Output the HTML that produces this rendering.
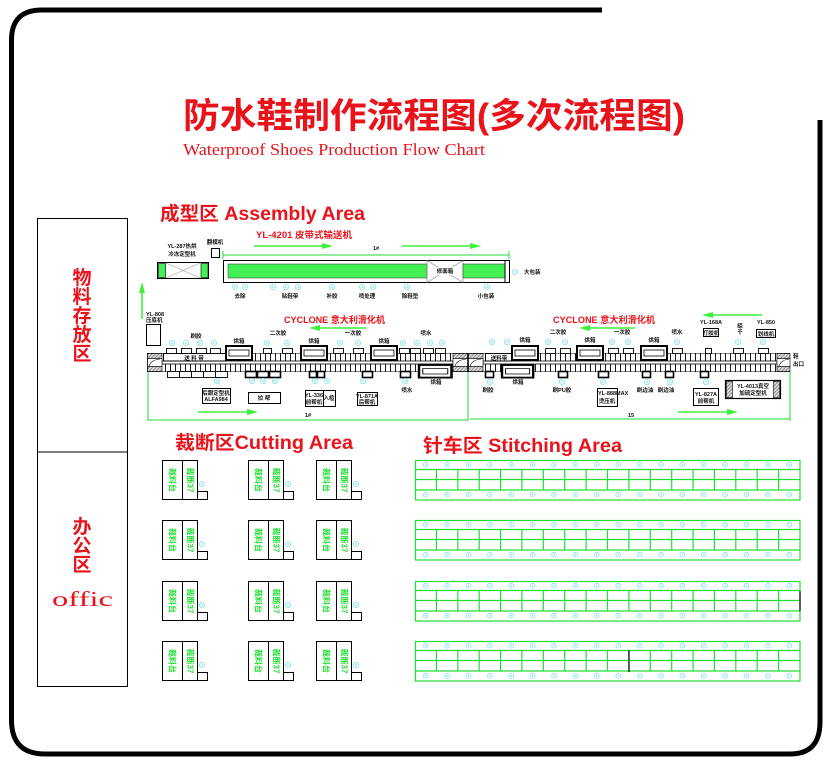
<!DOCTYPE html>
<html><head><meta charset="utf-8">
<style>
html,body{margin:0;padding:0;background:#fff;}
svg{display:block}
.s{font-size:5.5px;font-weight:bold;fill:#111}
.r{fill:#e8131b;font-weight:bold}
.g{fill:#22dd33;font-weight:bold}
</style></head>
<body>
<svg width="832" height="764" viewBox="0 0 832 764" xmlns="http://www.w3.org/2000/svg" xmlns:xlink="http://www.w3.org/1999/xlink" font-family="'Liberation Sans','Noto Sans CJK SC',sans-serif">
<defs>
<g id="ic"><circle r="2.6" fill="none" stroke="#7fe0ee" stroke-width="0.8"/><circle r="0.9" fill="#7fe0ee"/></g>
<pattern id="cells" x="0" y="0" width="5" height="10" patternUnits="userSpaceOnUse"><rect width="5" height="10" fill="#fff"/><line x1="0.5" y1="0" x2="0.5" y2="10" stroke="#000" stroke-width="0.9"/></pattern>
<pattern id="hatch" width="2.5" height="2.5" patternUnits="userSpaceOnUse" patternTransform="rotate(45)"><rect width="2.5" height="2.5" fill="#d8d8d8"/><line x1="0" y1="0" x2="0" y2="2.5" stroke="#333" stroke-width="0.8"/></pattern>
<pattern id="icp" x="415" y="0" width="21.389" height="10" patternUnits="userSpaceOnUse"><circle cx="10.7" cy="4.7" r="2.4" fill="none" stroke="#7fe0ee" stroke-width="0.8"/><circle cx="10.7" cy="4.7" r="0.8" fill="#7fe0ee"/></pattern>
<g id="srow">
<rect x="415" y="0" width="385" height="9.5" fill="url(#icp)"/>
<rect x="415" y="30" width="385" height="10" fill="url(#icp)"/>
<rect x="415.5" y="0.5" width="384.5" height="39.5" fill="none" stroke="#22dd33" stroke-width="1.2"/>
<path d="M415 9.5H800M415 19.5H800M415 30H800M436.4 9.5V30M457.8 9.5V30M479.2 9.5V30M500.6 9.5V30M521.9 9.5V30M543.3 9.5V30M564.7 9.5V30M586.1 9.5V30M607.5 9.5V30M628.9 9.5V30M650.3 9.5V30M671.7 9.5V30M693.1 9.5V30M714.4 9.5V30M735.8 9.5V30M757.2 9.5V30M778.6 9.5V30" stroke="#22dd33" stroke-width="1.2" fill="none"/>
</g>
<g id="cu"><rect x="0.5" y="0.5" width="35" height="39" fill="none" stroke="#000" stroke-width="1"/><line x1="20.5" y1="0.5" x2="20.5" y2="39.5" stroke="#000"/><rect x="35.5" y="31.5" width="10" height="8" fill="none" stroke="#000"/><use xlink:href="#ic" x="40" y="24"/></g>
<g id="oven"><rect x="0" y="0" width="26" height="14" fill="#fff" stroke="#000" stroke-width="2"/><rect x="3" y="4" width="20" height="6" fill="none" stroke="#000" stroke-width="0.8"/></g>
</defs>

<!-- frame -->
<path d="M602 10 L42 10 Q11.5 10 11.5 40 L11.5 720 Q11.5 754 45 754 L790 754 Q820 754 820 722 L820 120" fill="none" stroke="#000" stroke-width="5"/>

<!-- title -->
<text x="183" y="128" font-size="35" class="r" textLength="502" lengthAdjust="spacingAndGlyphs">防水鞋制作流程图(多次流程图)</text>
<text x="183" y="155" font-size="17" fill="#e8131b" font-family="'Liberation Serif',serif" textLength="302" lengthAdjust="spacingAndGlyphs">Waterproof Shoes Production Flow Chart</text>

<!-- left panel -->
<rect x="37.5" y="218.5" width="90" height="468" fill="none" stroke="#000" stroke-width="1"/>
<line x1="37.5" y1="452" x2="127.5" y2="452" stroke="#000"/>
<g class="r" font-size="19" text-anchor="middle">
<text x="82" y="284">物</text><text x="82" y="303">料</text><text x="82" y="322">存</text><text x="82" y="341">放</text><text x="82" y="360">区</text>
<text x="82" y="533">办</text><text x="82" y="552">公</text><text x="82" y="571">区</text>
</g>
<text x="52" y="606" font-size="21" fill="#e8131b" font-family="'Liberation Serif',serif" textLength="61" lengthAdjust="spacingAndGlyphs">offic</text>

<!-- Assembly area -->
<text x="160" y="220" font-size="19" class="r" textLength="205" lengthAdjust="spacingAndGlyphs">成型区 Assembly Area</text>
<text x="256" y="238" font-size="9" class="r" textLength="96" lengthAdjust="spacingAndGlyphs">YL-4201 皮带式输送机</text>
<!-- arrows top -->
<g stroke="#3cf03c" stroke-width="1.6" fill="#3cf03c">
<line x1="254" y1="246" x2="324" y2="246"/><polygon points="333,246 322,243 322,249" stroke="none"/>
<line x1="402" y1="246" x2="472" y2="246"/><polygon points="481,246 470,243 470,249" stroke="none"/>
</g>
<text x="373" y="250" class="s" font-size="7">1#</text>
<path d="M223 255H509M223 251V259M509 251V259" stroke="#22dd33" stroke-width="1" fill="none"/>
<!-- top conveyor -->
<rect x="223.5" y="260.5" width="286" height="22" fill="#fff" stroke="#000" stroke-width="1"/>
<rect x="228" y="264" width="199" height="14" fill="#44ee55" stroke="#333" stroke-width="0.5"/>
<path d="M427 260.5V282.5M463 260.5V282.5M427 260.5L463 282.5M463 260.5L427 282.5" stroke="#888" stroke-width="0.7"/>
<rect x="436" y="267" width="18" height="8" fill="#fff"/>
<text x="445" y="273" class="s" text-anchor="middle">修面箱</text>
<rect x="463" y="264" width="42" height="14" fill="#44ee55" stroke="#333" stroke-width="0.5"/>
<line x1="505" y1="260.5" x2="505" y2="282.5" stroke="#000"/>
<!-- left machine -->
<text x="182" y="248" class="s" text-anchor="middle">YL-287热烘</text>
<text x="182" y="256" class="s" text-anchor="middle">冷冻定型机</text>
<rect x="157.5" y="262.5" width="51" height="16" fill="#fff" stroke="#000"/>
<rect x="158.5" y="263.5" width="7" height="14" fill="#44ee55" stroke="#000" stroke-width="0.6"/>
<rect x="201" y="263.5" width="7" height="14" fill="#44ee55" stroke="#000" stroke-width="0.6"/>
<path d="M166 263L200 278M200 263L166 278" stroke="#999" stroke-width="0.6"/>
<rect x="211.5" y="248.5" width="8" height="9" fill="none" stroke="#000"/>
<text x="215" y="244" class="s" text-anchor="middle">翻模机</text>
<!-- icons under top conveyor -->
<use xlink:href="#ic" x="235" y="287"/><use xlink:href="#ic" x="245" y="287"/>
<use xlink:href="#ic" x="273" y="287"/><use xlink:href="#ic" x="286" y="287"/><use xlink:href="#ic" x="298" y="287"/>
<use xlink:href="#ic" x="332" y="287"/><use xlink:href="#ic" x="362" y="287"/><use xlink:href="#ic" x="373" y="287"/>
<use xlink:href="#ic" x="407" y="287"/><use xlink:href="#ic" x="487" y="287"/><use xlink:href="#ic" x="515" y="272"/>
<g class="s" text-anchor="middle">
<text x="240" y="298">去除</text><text x="290" y="298">贴鞋带</text><text x="332" y="298">补胶</text><text x="367" y="298">喷处理</text><text x="410" y="298">除鞋垫</text><text x="486" y="298">小包装</text>
</g>
<text x="524" y="274" class="s">大包装</text>
<!-- vertical arrow -->
<g stroke="#3cf03c" stroke-width="1.6" fill="#3cf03c">
<line x1="142" y1="319" x2="142" y2="291"/><polygon points="142,282 139,293 145,293" stroke="none"/>
</g>
<text x="146" y="316" class="s">YL-808</text><text x="146" y="322" class="s">压底机</text>
<rect x="146.5" y="324.5" width="14" height="21" fill="none" stroke="#000"/>

<!-- red labels line -->
<text x="284" y="323" font-size="9" class="r" textLength="101" lengthAdjust="spacingAndGlyphs">CYCLONE 意大利滑化机</text>
<text x="553" y="323" font-size="9" class="r" textLength="102" lengthAdjust="spacingAndGlyphs">CYCLONE 意大利滑化机</text>
<g stroke="#3cf03c" stroke-width="1.6" fill="#3cf03c">
<line x1="318" y1="328" x2="366" y2="328"/><polygon points="309,328 320,325 320,331" stroke="none"/>
<line x1="588" y1="328" x2="635" y2="328"/><polygon points="579,328 590,325 590,331" stroke="none"/>
<line x1="711" y1="315" x2="762" y2="315"/><polygon points="702,315 713,312 713,318" stroke="none"/>
<line x1="198" y1="412" x2="249" y2="412"/><polygon points="258,412 247,409 247,415" stroke="none"/>
<line x1="678" y1="412" x2="729" y2="412"/><polygon points="738,412 727,409 727,415" stroke="none"/>
</g>
<text x="700" y="324" class="s">YL-168A</text>
<rect x="703.5" y="328.5" width="15" height="8" fill="#fff" stroke="#000"/><text x="711" y="335" class="s" text-anchor="middle">打胶机</text>
<text x="740" y="328" class="s" text-anchor="middle">晾</text><text x="740" y="334" class="s" text-anchor="middle">干</text>
<text x="757" y="324" class="s">YL-850</text>
<rect x="756.5" y="329.5" width="19" height="8" fill="#fff" stroke="#000"/><text x="766" y="336" class="s" text-anchor="middle">划线机</text>

<!-- conveyor line 1 -->
<rect x="147.5" y="353.5" width="320" height="18" fill="#fff" stroke="#000"/>
<rect x="162" y="353.5" width="291" height="7.5" fill="url(#cells)"/>
<rect x="162" y="364" width="291" height="7.5" fill="url(#cells)"/>
<rect x="162" y="361" width="291" height="3" fill="#fff" stroke="#000" stroke-width="0.8"/>
<!-- conveyor line 2 -->
<rect x="468.5" y="353.5" width="321" height="18" fill="#fff" stroke="#000"/>
<rect x="483" y="353.5" width="294" height="7.5" fill="url(#cells)"/>
<rect x="483" y="364" width="294" height="7.5" fill="url(#cells)"/>
<rect x="483" y="361" width="294" height="3" fill="#fff" stroke="#000" stroke-width="0.8"/>
<!-- end caps -->
<g stroke="#000" stroke-width="0.6">
<rect x="147.5" y="353.5" width="14.5" height="5" fill="url(#hatch)"/><rect x="147.5" y="366.5" width="14.5" height="5" fill="url(#hatch)"/><rect x="147.5" y="358.5" width="14.5" height="8" fill="#fff"/><path d="M149 366 Q151 360 160 359" fill="none"/>
<rect x="453" y="353.5" width="14.5" height="5" fill="url(#hatch)"/><rect x="453" y="366.5" width="14.5" height="5" fill="url(#hatch)"/><rect x="453" y="358.5" width="14.5" height="8" fill="#fff"/><path d="M455 366 Q457 360 466 359" fill="none"/>
<rect x="468.5" y="353.5" width="14.5" height="5" fill="url(#hatch)"/><rect x="468.5" y="366.5" width="14.5" height="5" fill="url(#hatch)"/><rect x="468.5" y="358.5" width="14.5" height="8" fill="#fff"/><path d="M470 366 Q472 360 481 359" fill="none"/>
<rect x="777" y="353.5" width="13" height="5" fill="url(#hatch)"/><rect x="777" y="366.5" width="13" height="5" fill="url(#hatch)"/><rect x="777" y="358.5" width="13" height="8" fill="#fff"/><path d="M779 366 Q781 360 789 359" fill="none"/>
</g>
<text x="793" y="358" class="s">鞋</text><text x="793" y="366" class="s">出口</text>
<!-- feed boxes -->
<rect x="163.5" y="353.5" width="62" height="7.5" fill="#fff" stroke="#000"/><text x="194" y="360" class="s" text-anchor="middle">送 料 带</text>
<rect x="485.5" y="353.5" width="27" height="7.5" fill="#fff" stroke="#000"/><text x="499" y="360" class="s" text-anchor="middle">送料带</text>
<!-- small boxes above -->
<g fill="#fff" stroke="#000" stroke-width="0.9">
<rect x="166.5" y="348.5" width="10" height="5"/><rect x="181.5" y="348.5" width="10" height="5"/><rect x="196.5" y="348.5" width="10" height="5"/><rect x="210.5" y="348.5" width="10" height="5"/>
<rect x="263.5" y="348.5" width="8" height="5"/><rect x="282.5" y="348.5" width="10" height="5"/>
<rect x="333.5" y="348.5" width="10" height="5"/><rect x="353.5" y="348.5" width="10" height="5"/>
<rect x="399.5" y="348.5" width="10" height="5"/><rect x="410.5" y="348.5" width="10" height="5"/><rect x="423.5" y="348.5" width="10" height="5"/><rect x="435.5" y="348.5" width="10" height="5"/>
<rect x="545.5" y="348.5" width="10" height="5"/><rect x="560.5" y="348.5" width="10" height="5"/>
<rect x="608.5" y="348.5" width="10" height="5"/><rect x="623.5" y="348.5" width="10" height="5"/>
<rect x="672.5" y="348.5" width="10" height="5"/><rect x="705.5" y="348.5" width="6" height="5"/><rect x="733.5" y="348.5" width="10" height="5"/><rect x="758.5" y="348.5" width="10" height="5"/>
</g>
<!-- small boxes below -->
<g fill="#fff" stroke="#000" stroke-width="0.9">
<rect x="167.5" y="371.5" width="12" height="6"/><rect x="179.5" y="371.5" width="12" height="6"/><rect x="191.5" y="371.5" width="12" height="6"/><rect x="203.5" y="371.5" width="12" height="6"/><rect x="215.5" y="371.5" width="12" height="6"/>
<rect x="245.5" y="371.5" width="11" height="6" stroke-width="1.6"/><rect x="257.5" y="371.5" width="11" height="6" stroke-width="1.6"/><rect x="269.5" y="371.5" width="11" height="6" stroke-width="1.6"/>
<rect x="309.5" y="371.5" width="7" height="6" stroke-width="1.6"/><rect x="317.5" y="371.5" width="7" height="6" stroke-width="1.6"/>
<rect x="362.5" y="371.5" width="10" height="6" stroke-width="1.6"/><rect x="400.5" y="371.5" width="10" height="6" stroke-width="1.6"/>
<rect x="485.5" y="371.5" width="8" height="6" stroke-width="1.6"/><rect x="558.5" y="371.5" width="9" height="6" stroke-width="1.6"/><rect x="598.5" y="371.5" width="10" height="6" stroke-width="1.6"/>
<rect x="642.5" y="371.5" width="8" height="6" stroke-width="1.6"/><rect x="665.5" y="371.5" width="8" height="6" stroke-width="1.6"/><rect x="700.5" y="371.5" width="8" height="6" stroke-width="1.6"/>
</g>
<!-- ovens -->
<use xlink:href="#oven" x="226" y="346"/><use xlink:href="#oven" x="301" y="346"/><use xlink:href="#oven" x="371" y="346"/>
<use xlink:href="#oven" x="512" y="346"/><use xlink:href="#oven" x="577" y="346"/><use xlink:href="#oven" x="641" y="346"/>
<g transform="translate(419,365) scale(1.25,0.9)"><use xlink:href="#oven"/></g>
<g transform="translate(502,365) scale(1.2,0.9)"><use xlink:href="#oven"/></g>
<g class="s" text-anchor="middle">
<text x="239" y="343">烘箱</text><text x="314" y="343">烘箱</text><text x="384" y="343">烘箱</text>
<text x="525" y="342">烘箱</text><text x="590" y="342">烘箱</text><text x="654" y="342">烘箱</text>
<text x="436" y="384">烘箱</text><text x="518" y="384">烘箱</text>
<text x="196" y="338">刷胶</text><text x="278" y="335">二次胶</text><text x="353" y="335">一次胶</text><text x="426" y="335">喷水</text>
<text x="558" y="334">二次胶</text><text x="622" y="334">一次胶</text><text x="677" y="334">喷水</text>
<text x="407" y="392">喷水</text><text x="488" y="392">刷胶</text><text x="562" y="392">刷PU胶</text><text x="645" y="392">刷边油</text><text x="666" y="392">刷边油</text>
</g>
<!-- icons above/below lines -->
<use xlink:href="#ic" x="172" y="343"/><use xlink:href="#ic" x="186" y="343"/><use xlink:href="#ic" x="200" y="343"/><use xlink:href="#ic" x="214" y="343"/>
<use xlink:href="#ic" x="267" y="343"/><use xlink:href="#ic" x="287" y="343"/><use xlink:href="#ic" x="340" y="343"/><use xlink:href="#ic" x="358" y="343"/>
<use xlink:href="#ic" x="403" y="343"/><use xlink:href="#ic" x="417" y="343"/><use xlink:href="#ic" x="430" y="343"/><use xlink:href="#ic" x="442" y="343"/>
<use xlink:href="#ic" x="492" y="342"/><use xlink:href="#ic" x="507" y="342"/><use xlink:href="#ic" x="548" y="342"/><use xlink:href="#ic" x="565" y="342"/>
<use xlink:href="#ic" x="612" y="342"/><use xlink:href="#ic" x="628" y="342"/><use xlink:href="#ic" x="677" y="342"/><use xlink:href="#ic" x="738" y="342"/><use xlink:href="#ic" x="763" y="342"/>
<use xlink:href="#ic" x="217" y="381"/><use xlink:href="#ic" x="252" y="381"/><use xlink:href="#ic" x="263" y="381"/><use xlink:href="#ic" x="275" y="381"/>
<use xlink:href="#ic" x="315" y="381"/><use xlink:href="#ic" x="327" y="381"/><use xlink:href="#ic" x="363" y="381"/><use xlink:href="#ic" x="405" y="381"/>
<use xlink:href="#ic" x="490" y="382"/><use xlink:href="#ic" x="562" y="382"/><use xlink:href="#ic" x="603" y="382"/><use xlink:href="#ic" x="647" y="382"/><use xlink:href="#ic" x="670" y="382"/><use xlink:href="#ic" x="706" y="382"/>
<!-- boxes below line 1 -->
<rect x="202.5" y="388.5" width="28" height="15" fill="#fff" stroke="#000"/><text x="216" y="395" class="s" text-anchor="middle">后跟定型机</text><text x="216" y="401" class="s" text-anchor="middle">ALFA984</text>
<rect x="248.5" y="392.5" width="32" height="11" fill="#fff" stroke="#000"/><text x="264" y="400" class="s" text-anchor="middle">拉 帮</text>
<rect x="305.5" y="390.5" width="30" height="16" fill="#fff" stroke="#000"/><line x1="323.5" y1="390.5" x2="323.5" y2="406.5" stroke="#000"/>
<text x="314" y="397" class="s" text-anchor="middle">YL-336</text><text x="314" y="404" class="s" text-anchor="middle">前帮机</text><text x="329" y="400" class="s" text-anchor="middle">入楦</text>
<rect x="357.5" y="392.5" width="20" height="13" fill="#fff" stroke="#000"/><text x="367" y="398" class="s" text-anchor="middle">YL-871A</text><text x="367" y="404" class="s" text-anchor="middle">后帮机</text>
<!-- boxes below line 2 -->
<rect x="597.5" y="388.5" width="20" height="18" fill="#fff" stroke="#000"/><text x="598" y="395" class="s">YL-888MAX</text><text x="607" y="403" class="s" text-anchor="middle">烫压机</text>
<rect x="693.5" y="388.5" width="25" height="17" fill="#fff" stroke="#000"/><text x="706" y="396" class="s" text-anchor="middle">YL-827A</text><text x="706" y="403" class="s" text-anchor="middle">前帮机</text>
<rect x="725.5" y="380.5" width="55" height="18" fill="#fff" stroke="#000" stroke-width="1.2"/>
<rect x="726.5" y="381.5" width="6" height="16" fill="url(#hatch)" stroke="#000" stroke-width="0.6"/><rect x="773.5" y="381.5" width="6" height="16" fill="url(#hatch)" stroke="#000" stroke-width="0.6"/>
<text x="753" y="388" class="s" text-anchor="middle">YL-4013真空</text><text x="753" y="395" class="s" text-anchor="middle">加硫定型机</text>
<!-- dimension lines -->
<path d="M148 372V421M468 372V421M790 372V421M148 420H468M470 419H790" stroke="#22dd33" stroke-width="1" fill="none"/>
<text x="305" y="417" class="s" font-size="7">1#</text>
<text x="628" y="417" class="s" font-size="7">15</text>

<!-- Cutting area -->
<text x="175" y="449" font-size="19" class="r" textLength="178" lengthAdjust="spacingAndGlyphs">裁断区Cutting Area</text>
<use xlink:href="#cu" x="162" y="460"/><use xlink:href="#cu" x="248" y="460"/><use xlink:href="#cu" x="316" y="460"/>
<use xlink:href="#cu" x="162" y="520"/><use xlink:href="#cu" x="248" y="520"/><use xlink:href="#cu" x="316" y="520"/>
<use xlink:href="#cu" x="162" y="581"/><use xlink:href="#cu" x="248" y="581"/><use xlink:href="#cu" x="316" y="581"/>
<use xlink:href="#cu" x="162" y="641"/><use xlink:href="#cu" x="248" y="641"/><use xlink:href="#cu" x="316" y="641"/>
<g class="g" font-size="8" text-anchor="middle" dominant-baseline="central">
<text transform="translate(172,480) rotate(90)">裁料台</text><text transform="translate(190,480) rotate(90)">裁断37</text>
<text transform="translate(258,480) rotate(90)">裁料台</text><text transform="translate(276,480) rotate(90)">裁断37</text>
<text transform="translate(326,480) rotate(90)">裁料台</text><text transform="translate(344,480) rotate(90)">裁断37</text>
<text transform="translate(172,540) rotate(90)">裁料台</text><text transform="translate(190,540) rotate(90)">裁断37</text>
<text transform="translate(258,540) rotate(90)">裁料台</text><text transform="translate(276,540) rotate(90)">裁断37</text>
<text transform="translate(326,540) rotate(90)">裁料台</text><text transform="translate(344,540) rotate(90)">裁断37</text>
<text transform="translate(172,601) rotate(90)">裁料台</text><text transform="translate(190,601) rotate(90)">裁断37</text>
<text transform="translate(258,601) rotate(90)">裁料台</text><text transform="translate(276,601) rotate(90)">裁断37</text>
<text transform="translate(326,601) rotate(90)">裁料台</text><text transform="translate(344,601) rotate(90)">裁断37</text>
<text transform="translate(172,661) rotate(90)">裁料台</text><text transform="translate(190,661) rotate(90)">裁断37</text>
<text transform="translate(258,661) rotate(90)">裁料台</text><text transform="translate(276,661) rotate(90)">裁断37</text>
<text transform="translate(326,661) rotate(90)">裁料台</text><text transform="translate(344,661) rotate(90)">裁断37</text>
</g>

<!-- Stitching area -->
<text x="423" y="452" font-size="19" class="r" textLength="199" lengthAdjust="spacingAndGlyphs">针车区 Stitching Area</text>
<use xlink:href="#srow" y="460"/>
<use xlink:href="#srow" y="520"/>
<use xlink:href="#srow" y="581"/>
<use xlink:href="#srow" y="641"/>
<line x1="800" y1="591" x2="800" y2="611" stroke="#000" stroke-width="1.2"/>
<line x1="629" y1="650" x2="629" y2="672" stroke="#000" stroke-width="1.2"/>
</svg>
</body></html>
